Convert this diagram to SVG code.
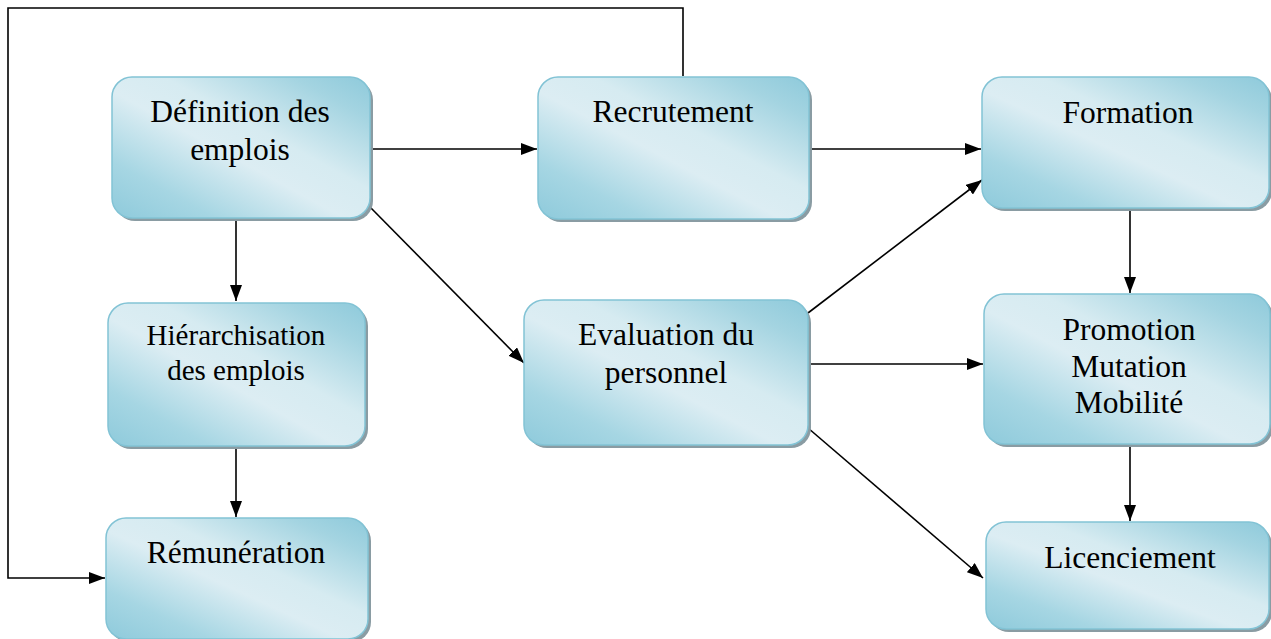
<svg xmlns="http://www.w3.org/2000/svg" width="1271" height="639" viewBox="0 0 1271 639">
<defs>
<linearGradient id="g" x1="0" y1="1" x2="1" y2="0">
<stop offset="0" stop-color="#8ecadb"/>
<stop offset="0.2" stop-color="#a6d6e3"/>
<stop offset="0.45" stop-color="#dcedf3"/>
<stop offset="0.6" stop-color="#d6ebf1"/>
<stop offset="0.85" stop-color="#a4d4e1"/>
<stop offset="1" stop-color="#8ecadb"/>
</linearGradient>
<marker id="ah" markerWidth="16" markerHeight="12" refX="16" refY="6" orient="auto" markerUnits="userSpaceOnUse">
<path d="M0,0 L16,6 L0,12 Z" fill="#000"/>
</marker>
</defs>
<style>
.sh{fill:#8a9ca3}
.bx{fill:url(#g);stroke:#82c3d5;stroke-width:1.5}
.t{font-family:"Liberation Serif","Times New Roman",serif;font-size:31.5px;fill:#000;text-anchor:middle}
.ts{font-size:29px}
.c{fill:none;stroke:#000;stroke-width:1.6}
</style>
<rect width="1271" height="639" fill="#fff"/>
<g id="connectors">
<polyline class="c" points="683,76 683,8 8,8 8,578 105,578" marker-end="url(#ah)"/>
<line class="c" x1="370" y1="149" x2="537" y2="149" marker-end="url(#ah)"/>
<line class="c" x1="809" y1="149" x2="981" y2="149" marker-end="url(#ah)"/>
<line class="c" x1="236" y1="218" x2="236" y2="301" marker-end="url(#ah)"/>
<line class="c" x1="236" y1="446" x2="236" y2="517" marker-end="url(#ah)"/>
<line class="c" x1="370" y1="207" x2="524" y2="363" marker-end="url(#ah)"/>
<line class="c" x1="808" y1="313" x2="982" y2="180" marker-end="url(#ah)"/>
<line class="c" x1="808" y1="364" x2="983" y2="364" marker-end="url(#ah)"/>
<line class="c" x1="808" y1="428" x2="983" y2="578" marker-end="url(#ah)"/>
<line class="c" x1="1130" y1="208" x2="1130" y2="293" marker-end="url(#ah)"/>
<line class="c" x1="1130" y1="446" x2="1130" y2="521" marker-end="url(#ah)"/>
</g>
<g id="definition">
<rect class="sh" x="115" y="80" width="258" height="141" rx="20"/>
<rect class="bx" x="112" y="77" width="258" height="141" rx="20"/>
<text class="t" x="240" y="122">Définition des</text>
<text class="t" x="240" y="160">emplois</text>
</g>
<g id="recrutement">
<rect class="sh" x="541" y="80" width="271" height="142" rx="20"/>
<rect class="bx" x="538" y="77" width="271" height="142" rx="20"/>
<text class="t" x="673" y="122">Recrutement</text>
</g>
<g id="formation">
<rect class="sh" x="985" y="80" width="287" height="131" rx="20"/>
<rect class="bx" x="982" y="77" width="287" height="131" rx="20"/>
<text class="t" x="1128" y="123">Formation</text>
</g>
<g id="hierarchisation">
<rect class="sh" x="111" y="306" width="257" height="143" rx="20"/>
<rect class="bx" x="108" y="303" width="257" height="143" rx="20"/>
<text class="t ts" x="236" y="345">Hiérarchisation</text>
<text class="t ts" x="236" y="380">des emplois</text>
</g>
<g id="evaluation">
<rect class="sh" x="527" y="303" width="284" height="145" rx="20"/>
<rect class="bx" x="524" y="300" width="284" height="145" rx="20"/>
<text class="t" x="666" y="345">Evaluation du</text>
<text class="t" x="666" y="383">personnel</text>
</g>
<g id="promotion">
<rect class="sh" x="987" y="297" width="286" height="150" rx="20"/>
<rect class="bx" x="984" y="294" width="286" height="150" rx="20"/>
<text class="t" x="1129" y="340">Promotion</text>
<text class="t" x="1129" y="377">Mutation</text>
<text class="t" x="1129" y="413">Mobilité</text>
</g>
<g id="remuneration">
<rect class="sh" x="109" y="521" width="262" height="121" rx="20"/>
<rect class="bx" x="106" y="518" width="262" height="121" rx="20"/>
<text class="t" x="236" y="563">Rémunération</text>
</g>
<g id="licenciement">
<rect class="sh" x="989" y="525" width="283" height="107" rx="20"/>
<rect class="bx" x="986" y="522" width="283" height="107" rx="20"/>
<text class="t" x="1130" y="568">Licenciement</text>
</g>
</svg>
